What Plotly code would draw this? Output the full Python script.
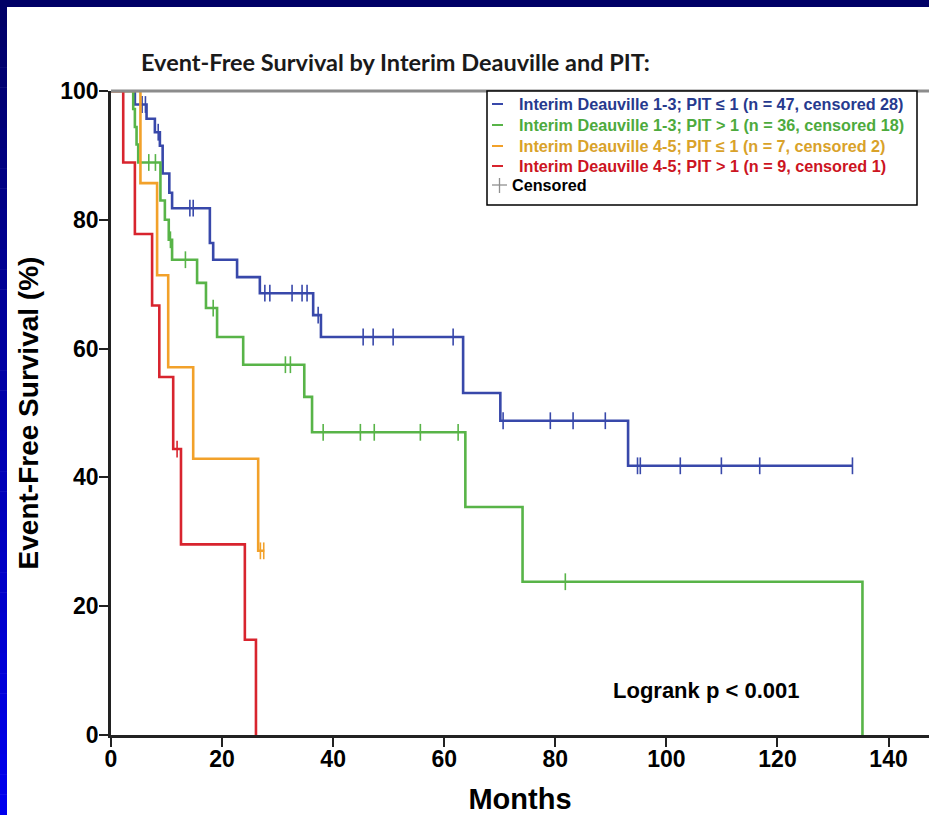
import plotly.graph_objects as go

# ---------------- data ----------------
series_names = [
    "Interim Deauville 1-3; PIT \u2264 1 (n = 47, censored 28)",
    "Interim Deauville 1-3; PIT > 1 (n = 36, censored 18)",
    "Interim Deauville 4-5; PIT \u2264 1 (n = 7, censored 2)",
    "Interim Deauville 4-5; PIT > 1 (n = 9, censored 1)",
]

blue_t = [0, 4.3, 6.4, 7.9, 8.8, 9.3, 10.5, 11.0, 17.8, 18.4, 22.7, 26.8, 36.4, 37.8, 63.4, 70.1, 93.1, 133.5]
blue_s = [100, 97.9, 95.7, 93.6, 91.5, 87.2, 84.2, 81.8, 76.4, 73.8, 71.1, 68.6, 65.2, 61.8, 53.1, 48.8, 41.8, 41.8]
blue_ct = [5.6, 6.2, 8.5, 14.2, 14.8, 27.7, 28.6, 32.6, 34.4, 35.3, 37.3, 45.4, 47.2, 50.8, 61.6,
           70.6, 79.1, 83.2, 89.0, 94.8, 95.3, 102.5, 109.9, 116.8, 133.5]
blue_cs = [97.9, 97.9, 93.6, 81.8, 81.8, 68.6, 68.6, 68.6, 68.6, 68.6, 65.2, 61.8, 61.8, 61.8, 61.8,
           48.8, 48.8, 48.8, 48.8, 41.8, 41.8, 41.8, 41.8, 41.8, 41.8]

green_t = [0, 4.0, 4.3, 4.6, 4.9, 8.9, 9.7, 10.4, 11.0, 15.5, 17.1, 19.1, 23.8, 34.8, 36.2, 63.8, 74.1, 135.3]
green_s = [100, 97.2, 94.4, 91.7, 88.9, 83.0, 80.0, 76.9, 73.8, 70.2, 66.3, 61.8, 57.5, 52.5, 47.0, 35.4, 23.8, 0]
green_ct = [6.8, 8.0, 10.7, 13.4, 18.4, 31.4, 32.3, 38.2, 44.9, 47.4, 55.7, 62.5, 81.8]
green_cs = [88.9, 88.9, 76.9, 73.8, 66.3, 57.5, 57.5, 47.0, 47.0, 47.0, 47.0, 47.0, 23.8]

orange_t = [0, 5.3, 8.3, 10.3, 14.8, 26.5, 27.6]
orange_s = [100, 85.7, 71.4, 57.1, 42.9, 28.6, 28.6]
orange_ct = [26.9, 27.5]
orange_cs = [28.6, 28.6]

red_t = [0, 2.2, 4.3, 7.4, 8.7, 11.2, 12.6, 24.1, 26.1]
red_s = [100, 88.9, 77.8, 66.7, 55.6, 44.4, 29.6, 14.8, 0]
red_ct = [11.9]
red_cs = [44.4]

x_ticks = [0, 20, 40, 60, 80, 100, 120, 140]
y_ticks = [0, 20, 40, 60, 80, 100]

# ---------------- styling ----------------
line_colors = ["#3848AA", "#58B448", "#F2A12A", "#D8242E"]
text_colors = ["#263A8E", "#4DAA3D", "#D9A22A", "#CC1422"]

FW, FH = 929, 815
L, R, T, B = 111, 0, 91, 80
PW, PH = FW - L - R, FH - T - B
PX_PER_UNIT = 5.554
XMAX = PW / PX_PER_UNIT


def px(x):
    return (x - L) / PW


def py(y):
    return (FH - B - y) / PH


fig = go.Figure()
curves = [(blue_t, blue_s, blue_ct, blue_cs), (green_t, green_s, green_ct, green_cs),
          (orange_t, orange_s, orange_ct, orange_cs), (red_t, red_s, red_ct, red_cs)]
for (t, s, ct, cs), col, nm in zip(curves, line_colors, series_names):
    fig.add_trace(go.Scatter(x=t, y=s, mode="lines", line=dict(color=col, width=2.6, shape="hv"),
                             name=nm, showlegend=False, hoverinfo="skip"))
    fig.add_trace(go.Scatter(x=ct, y=cs, mode="markers",
                             marker=dict(symbol="line-ns", size=12, color=col, line=dict(color=col, width=1.6)),
                             name=nm + " censored", showlegend=False, hoverinfo="skip"))

shapes = []
# background frame: navy top strip, gradient left strip
shapes.append(dict(type="rect", xref="paper", yref="paper", x0=px(0), x1=px(FW), y0=py(7), y1=py(0),
                   fillcolor="#000066", line=dict(width=0), layer="below"))
nseg = 40
for i in range(nseg):
    y0 = 7 + (FH - 7) * i / nseg
    y1 = 7 + (FH - 7) * (i + 1) / nseg
    f = (i + 0.5) / nseg
    b = int(0x66 + (0xF0 - 0x66) * f)
    shapes.append(dict(type="rect", xref="paper", yref="paper", x0=px(0), x1=px(7), y0=py(y1), y1=py(y0 - 0.5),
                       fillcolor="#0000%02X" % b, line=dict(width=0), layer="below"))
shapes.append(dict(type="rect", xref="paper", yref="paper", x0=px(0), x1=px(7), y0=py(7), y1=py(0),
                   fillcolor="#000066", line=dict(width=0), layer="below"))
# top frame line
shapes.append(dict(type="line", xref="paper", yref="paper", x0=0, x1=1, y0=1, y1=1,
                   line=dict(color="#8C8C8C", width=3)))
# legend box
shapes.append(dict(type="rect", xref="paper", yref="paper", x0=px(487), x1=px(917), y0=py(205), y1=py(91),
                   fillcolor="white", line=dict(color="black", width=1.5)))
leg_y = [104, 125, 146, 166]
annotations = []
for yy, col, tcol, nm in zip(leg_y, line_colors, text_colors, series_names):
    shapes.append(dict(type="line", xref="paper", yref="paper", x0=px(492), x1=px(503), y0=py(yy), y1=py(yy),
                       line=dict(color=col, width=2)))
    annotations.append(dict(xref="paper", yref="paper", x=px(517), y=py(yy), xanchor="left", yanchor="middle",
                            text="<b>" + nm + "</b>", showarrow=False,
                            font=dict(family="Arial, Liberation Sans", size=16.2, color=tcol)))
# censored legend entry
shapes.append(dict(type="line", xref="paper", yref="paper", x0=px(492), x1=px(507), y0=py(185), y1=py(185),
                   line=dict(color="#909090", width=1.3)))
shapes.append(dict(type="line", xref="paper", yref="paper", x0=px(499.5), x1=px(499.5), y0=py(178), y1=py(193),
                   line=dict(color="#909090", width=1.3)))
annotations.append(dict(xref="paper", yref="paper", x=px(510), y=py(185), xanchor="left", yanchor="middle",
                        text="<b>Censored</b>", showarrow=False,
                        font=dict(family="Arial, Liberation Sans", size=16.2, color="black")))
# title
annotations.append(dict(xref="paper", yref="paper", x=px(139), y=py(62), xanchor="left", yanchor="middle",
                        text="<b>Event-Free Survival by Interim Deauville and PIT:</b>", showarrow=False,
                        font=dict(family="Lato, Open Sans", size=23.5, color="#1a1a1a")))
# logrank
annotations.append(dict(xref="paper", yref="paper", x=px(706), y=py(690), xanchor="center", yanchor="middle",
                        text="<b>Logrank p &lt; 0.001</b>", showarrow=False,
                        font=dict(family="Arial, Liberation Sans", size=22, color="black")))

fig.update_layout(
    width=FW, height=FH,
    margin=dict(l=L, r=R, t=T, b=B, pad=0),
    paper_bgcolor="white", plot_bgcolor="white",
    showlegend=False,
    shapes=shapes, annotations=annotations,
    xaxis=dict(range=[0, XMAX], tickvals=x_ticks, ticktext=["<b>%d</b>" % v for v in x_ticks],
               showgrid=False, zeroline=False, showline=True, linecolor="#222", linewidth=2.5,
               ticks="outside", ticklen=9, tickwidth=2, tickcolor="#222", ticklabelstandoff=-7,
               tickfont=dict(family="Arial, Liberation Sans", size=23, color="black"),
               title=dict(text="<b>Months</b>", standoff=18,
                          font=dict(family="Arial, Liberation Sans", size=29, color="black"))),
    yaxis=dict(range=[0, 100], tickvals=y_ticks, ticktext=["<b>%d</b>" % v for v in y_ticks],
               showgrid=False, zeroline=False, showline=True, linecolor="#222", linewidth=2.5,
               ticks="outside", ticklen=9, tickwidth=2, tickcolor="#222", ticklabelstandoff=-4,
               tickfont=dict(family="Arial, Liberation Sans", size=23, color="black"),
               title=dict(text="<b>Event-Free Survival (%)</b>", standoff=14,
                          font=dict(family="Arial, Liberation Sans", size=28, color="black"))),
)

fig.write_html("out.html")
